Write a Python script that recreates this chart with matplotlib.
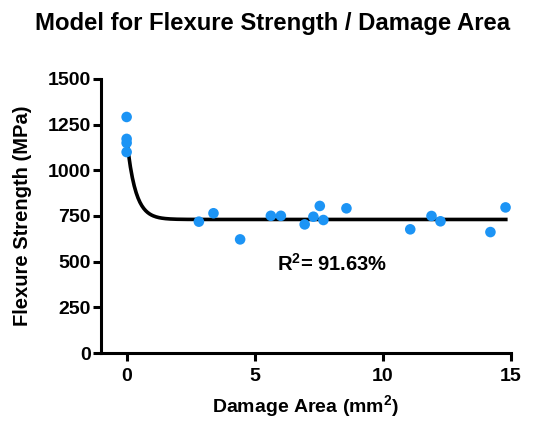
"""Flexure strength vs damage area with one-phase decay model."""

import matplotlib
matplotlib.use('Agg')
import matplotlib.pyplot as plt
import numpy as np

# Measured points
damage_area = [0, 0, 0, 0, 2.82, 3.39, 4.43, 5.63, 6.02, 6.95, 7.29, 7.54,
               7.68, 8.58, 11.07, 11.9, 12.25, 14.2, 14.79]
flexure_strength = [1292, 1172, 1150, 1100, 719, 765, 622, 751, 751, 704,
                    746, 805, 728, 792, 677, 750, 721, 662, 797]

# Model fit parameters (one-phase decay)
fit_y0 = 1178
fit_plateau = 731
fit_k = 3.0
fit_x_range = [0.0, 14.8]

r2_label = 'R$^{\\mathbf{2}}$= 91.63%'
x_ticks = [0, 5, 10, 15]
y_ticks = [0, 250, 500, 750, 1000, 1250, 1500]

plt.rcParams['font.family'] = ['Liberation Sans', 'DejaVu Sans']
plt.rcParams['mathtext.fontset'] = 'custom'
plt.rcParams['mathtext.bf'] = 'Liberation Sans:bold'
plt.rcParams['mathtext.rm'] = 'Liberation Sans:bold'

fig = plt.figure(figsize=(5.35, 4.21), dpi=100)
ax = fig.add_axes([0.1888, 0.1615, 0.7662, 0.6509])

xs = np.linspace(fit_x_range[0], fit_x_range[1], 400)
ys = fit_plateau + (fit_y0 - fit_plateau) * np.exp(-fit_k * xs)
ax.plot(xs, ys, color='black', linewidth=2.6, zorder=2)
ax.scatter(damage_area, flexure_strength, s=58, color='#1C94F5',
           edgecolors='none', zorder=3, clip_on=False)

ax.set_xlim(-1, 15)
ax.set_ylim(0, 1500)
ax.set_xticks(x_ticks)
ax.set_yticks(y_ticks)
for side in ('top', 'right'):
    ax.spines[side].set_visible(False)
for side in ('left', 'bottom'):
    ax.spines[side].set_linewidth(2.2)
ax.tick_params(width=2.2, length=5.5, labelsize=14, pad=2)
ax.tick_params(axis='x', pad=5)
for lbl in ax.get_xticklabels() + ax.get_yticklabels():
    lbl.set_fontweight('bold')

ax.set_xlabel('Damage Area (mm$^{\\mathbf{2}}$)', fontsize=14,
              fontweight='bold', labelpad=6)
ax.set_ylabel('Flexure Strength (MPa)', fontsize=14.5, fontweight='bold',
              labelpad=11)
ax.text(5.85, 490, r2_label, fontsize=14.5, fontweight='bold',
        ha='left', va='center')
fig.text(0.509, 0.943, 'Model for Flexure Strength / Damage Area',
         fontsize=17.2, fontweight='bold', ha='center', va='center')

fig.savefig('out.png', dpi=100)
